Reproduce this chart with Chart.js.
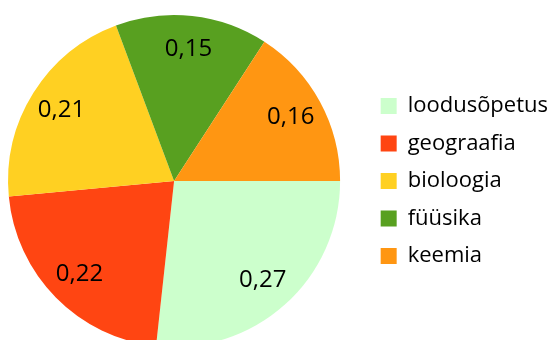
<!DOCTYPE html>
<html>
<head>
<meta charset="utf-8">
<script src="https://cdn.jsdelivr.net/npm/chart.js@4/dist/chart.umd.min.js"></script>
<style>
html, body { margin: 0; padding: 0; width: 556px; height: 340px; overflow: hidden; background: #fff; }
#wrap { position: absolute; left: -17px; top: 0; width: 575px; height: 347px; }
</style>
</head>
<body>
<div id="wrap"><canvas id="pieChart"></canvas></div>
<script>
const subjects = ['loodusõpetus', 'geograafia', 'bioloogia', 'füüsika', 'keemia'];
const shares = [0.27, 0.22, 0.21, 0.15, 0.16];
const sliceColors = ['#ccffcc', '#ff4512', '#ffd022', '#58a020', '#ff9612'];

// draws the value inside each slice, like the data labels in the original
const sliceLabels = {
    id: 'sliceLabels',
    afterDatasetsDraw(chart) {
        const ctx = chart.ctx;
        const meta = chart.getDatasetMeta(0);
        ctx.save();
        ctx.font = '24px "Open Sans"';
        ctx.fillStyle = '#000';
        ctx.textAlign = 'center';
        ctx.textBaseline = 'middle';
        meta.data.forEach((arc, i) => {
            const p = arc.getProps(['x', 'y', 'startAngle', 'endAngle', 'outerRadius'], true);
            const mid = (p.startAngle + p.endAngle) / 2;
            const r = p.outerRadius * 0.8;
            const text = shares[i].toFixed(2).replace('.', ',');
            ctx.fillText(text, p.x + Math.cos(mid) * r, p.y + Math.sin(mid) * r);
        });
        ctx.restore();
    }
};

function main() {
    const ctx = document.getElementById('pieChart').getContext('2d');
    new Chart(ctx, {
        type: 'pie',
        data: {
            labels: subjects,
            datasets: [{
                data: shares,
                backgroundColor: sliceColors,
                borderWidth: 0
            }]
        },
        options: {
            responsive: true,
            maintainAspectRatio: false,
            animation: false,
            rotation: 90,
            layout: { padding: { top: 15, bottom: 0, left: 0, right: 0 } },
            plugins: {
                legend: {
                    position: 'right',
                    labels: {
                        boxWidth: 16,
                        boxHeight: 16,
                        padding: 15.5,
                        color: '#000',
                        font: { family: 'Open Sans', size: 22 }
                    }
                },
                tooltip: { enabled: false }
            }
        },
        plugins: [sliceLabels]
    });
}

window.addEventListener('load', main);
</script>
</body>
</html>
